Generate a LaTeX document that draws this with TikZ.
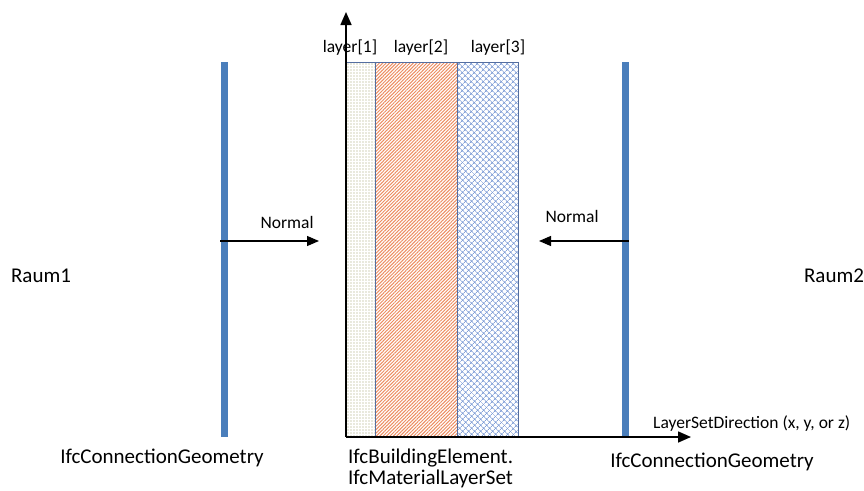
\documentclass[tikz,border=0pt]{standalone}
\usepackage{fontspec}
\setmainfont{Carlito}
\usetikzlibrary{arrows.meta,patterns.meta,positioning}
\definecolor{barblue}{RGB}{74,126,187}
\definecolor{edgeblue}{RGB}{84,110,160}
\definecolor{hatchorange}{RGB}{236,140,96}
\definecolor{hatchblue}{RGB}{130,160,215}
\definecolor{dotkhaki}{RGB}{160,160,110}
\tikzset{
    layer/.style={rectangle, draw=edgeblue, line width=0.8pt, inner sep=0pt,
        anchor=north west, minimum height=375pt},
    bar/.style={rectangle, fill=barblue, inner sep=0pt, minimum width=7pt,
        minimum height=375pt},
    axis/.style={-{Triangle[length=13pt,width=11pt]}, line width=1.6pt},
    normal/.style={-{Triangle[length=12pt,width=10pt]}, line width=1.2pt},
    small/.style={font=\fontsize{17.5}{20}\selectfont, inner sep=0pt, anchor=base},
    big/.style={font=\fontsize{21}{22}\selectfont, inner sep=0pt, anchor=base}
}
\begin{document}
\begin{tikzpicture}[x=1pt,y=-1pt]
    \useasboundingbox (0,0) rectangle (864,490);
    % layers of the material layer set
    \node[layer, minimum width=29pt, pattern={Dots[distance=3pt,radius=0.55pt]},
        pattern color=dotkhaki] (l1) at (346,62) {};
    \node[layer, minimum width=82pt, pattern={Lines[angle=45,distance=2.4pt,line width=1pt]},
        pattern color=hatchorange] (l2) at (375,62) {};
    \node[layer, minimum width=61pt, pattern={Hatch[angle=45,distance=4pt,line width=0.8pt]},
        pattern color=hatchblue] (l3) at (457,62) {};
    \node[small] at (350,52) {layer[1]};
    \node[small] at (421,52) {layer[2]};
    \node[small] at (498,52) {layer[3]};
    % connection geometries
    \node[bar] (g1) at (224,249.5) {};
    \node[bar] (g2) at (625.5,249.5) {};
    % axes
    \coordinate (o) at (346,437);
    \coordinate (ytip) at (346,12);
    \coordinate (xtip) at (691,437);
    \draw[axis] (o) -- (ytip);
    \draw[axis] (o) -- (xtip);
    % normals
    \coordinate (n1) at (319,241);
    \coordinate (n2) at (539,241);
    \draw[normal] (g1.west |- n1) -- (n1);
    \draw[normal] (g2.east |- n2) -- (n2);
    \node[small] at (287,228) {Normal};
    \node[small] at (572,222) {Normal};
    % labels
    \node[big] (r1) at (41,282) {Raum1};
    \node[big] (r2) at (834,282) {Raum2};
    \node[big] (c1) at (162,463) {IfcConnectionGeometry};
    \node[big] (c2) at (712,467) {IfcConnectionGeometry};
    \node[big, anchor=base west] (be) at (348,463) {IfcBuildingElement.};
    \node[big, anchor=base west] (ml) at (348,484) {IfcMaterialLayerSet};
    \node[small, anchor=base west] (lsd) at (653,428) {LayerSetDirection (x, y, or z)};
\end{tikzpicture}
\end{document}
